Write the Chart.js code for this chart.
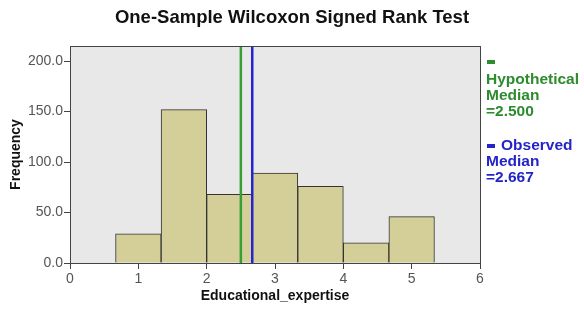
<!DOCTYPE html>
<html>
<head>
<meta charset="utf-8">
<script src="https://cdn.jsdelivr.net/npm/chart.js@4"></script>
<style>
  html, body { margin: 0; padding: 0; background: #fff; }
  #wrap { width: 584px; height: 309px; }
</style>
</head>
<body>
<div id="wrap"><canvas id="histChart" width="584" height="309"></canvas></div>
<script>
// histogram bins (centres of bins of width 2/3) and counts
const binCenters = [1, 5/3, 7/3, 3, 11/3, 13/3, 5];
const frequencies = [29, 152, 68, 89, 76, 20, 46];
const hypotheticalMedian = 2.5;
const observedMedian = 2.667;
const xTicks = [0, 1, 2, 3, 4, 5, 6];
const yTicks = [0, 50, 100, 150, 200];

const ctx = document.getElementById('histChart').getContext('2d');

const histData = binCenters.map((c, i) => ({ x: c, y: frequencies[i] }));
const FONT = '"Liberation Sans", Arial, sans-serif';

const frame = {
    id: 'frame',
    beforeDraw(chart) {
        const { ctx, chartArea: a } = chart;
        ctx.save();
        ctx.fillStyle = '#e8e8e8';
        ctx.fillRect(a.left, a.top, a.right - a.left, a.bottom - a.top);
        ctx.restore();
    },
    afterDraw(chart) {
        const { ctx, chartArea: a } = chart;
        ctx.save();
        ctx.strokeStyle = '#444';
        ctx.lineWidth = 1;
        ctx.strokeRect(a.left + 0.5, a.top + 0.5, a.right - a.left, a.bottom - a.top);

        // title
        ctx.fillStyle = '#111';
        ctx.font = 'bold 18.5px ' + FONT;
        ctx.textAlign = 'center';
        ctx.textBaseline = 'middle';
        ctx.fillText('One-Sample Wilcoxon Signed Rank Test', 292, 18);

        // legend on the right
        ctx.textAlign = 'left';
        ctx.font = 'bold 15.5px ' + FONT;
        ctx.fillStyle = '#2e8b2e';
        ctx.fillRect(487, 60, 8, 4);
        ctx.fillText('Hypothetical', 486, 80);
        ctx.fillText('Median', 486, 96);
        ctx.fillText('=2.500', 486, 112);
        ctx.fillStyle = '#2424c8';
        ctx.fillRect(487, 144, 8, 4);
        ctx.fillText('Observed', 501, 146);
        ctx.fillText('Median', 486, 162);
        ctx.fillText('=2.667', 486, 178);
        ctx.restore();
    }
};

new Chart(ctx, {
    type: 'bar',
    data: {
        datasets: [
            {
                type: 'line',
                label: 'Hypothetical Median',
                data: [{ x: hypotheticalMedian, y: 0 }, { x: hypotheticalMedian, y: 215 }],
                borderColor: '#34a034',
                borderWidth: 2.5,
                pointRadius: 0,
                order: 0
            },
            {
                type: 'line',
                label: 'Observed Median',
                data: [{ x: observedMedian, y: 0 }, { x: observedMedian, y: 215 }],
                borderColor: '#2424d0',
                borderWidth: 2.5,
                pointRadius: 0,
                order: 0
            },
            {
                label: 'Frequency',
                data: histData,
                backgroundColor: '#d4cf98',
                borderColor: '#333',
                borderWidth: 1,
                barPercentage: 1,
                categoryPercentage: 1,
                order: 2
            }
        ]
    },
    options: {
        responsive: false,
        animation: false,
        layout: { padding: { top: 46, right: 104, left: 6, bottom: 0 } },
        plugins: {
            legend: { display: false },
            tooltip: { enabled: false }
        },
        scales: {
            x: {
                type: 'linear',
                min: 0,
                max: 6,
                offset: false,
                afterBuildTicks: axis => { axis.ticks = xTicks.map(v => ({ value: v })); },
                afterFit: axis => { axis.height = 46; },
                grid: { drawOnChartArea: false, offset: false, tickLength: 6, color: '#444' },
                border: { color: '#444' },
                ticks: {
                    color: '#555',
                    font: { size: 14, family: FONT },
                    padding: 2
                },
                title: {
                    display: true,
                    text: 'Educational_expertise',
                    color: '#111',
                    font: { size: 14, weight: 'bold', family: FONT },
                    padding: { top: 2 }
                }
            },
            y: {
                min: 0,
                max: 215,
                afterBuildTicks: axis => { axis.ticks = yTicks.map(v => ({ value: v })); },
                afterFit: axis => { axis.width = 64; },
                grid: { drawOnChartArea: false, tickLength: 6, color: '#444' },
                border: { color: '#444' },
                ticks: {
                    color: '#555',
                    font: { size: 14, family: FONT },
                    padding: 1,
                    callback: v => v.toFixed(1)
                },
                title: {
                    display: true,
                    text: 'Frequency',
                    color: '#111',
                    font: { size: 14, weight: 'bold', family: FONT },
                    padding: 2
                }
            }
        }
    },
    plugins: [frame]
});
</script>
</body>
</html>
